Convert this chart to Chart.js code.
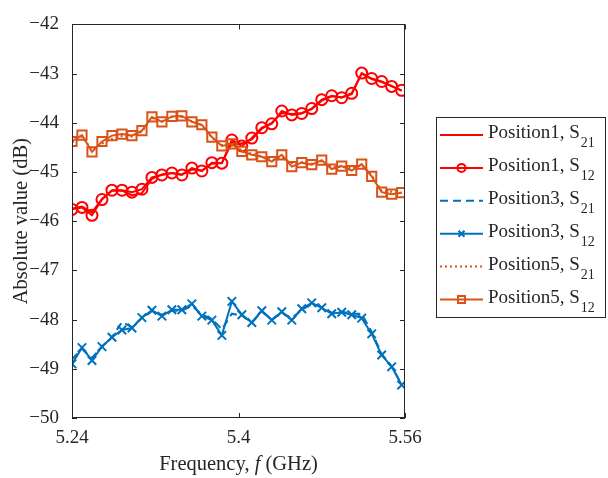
<!DOCTYPE html>
<html><head><meta charset="utf-8">
<script src="https://cdn.jsdelivr.net/npm/chart.js@4/dist/chart.umd.min.js"></script>
<style>html,body{margin:0;padding:0;background:#fff;}#wrap{width:608px;height:478px;position:relative;}</style>
</head><body><div id="wrap"><canvas id="c" width="608" height="478"></canvas></div>
<script>
const freqGHz = [5.2400,5.2496,5.2592,5.2688,5.2784,5.2880,5.2976,5.3072,5.3168,5.3264,5.3360,5.3456,5.3552,5.3648,5.3744,5.3840,5.3936,5.4032,5.4128,5.4224,5.4320,5.4416,5.4512,5.4608,5.4704,5.4800,5.4896,5.4992,5.5088,5.5184,5.5280,5.5376,5.5472,5.5568];
const pos1S21 = [-45.74,-45.70,-45.82,-45.55,-45.38,-45.38,-45.47,-45.43,-45.14,-45.05,-45.02,-45.05,-44.95,-44.97,-44.83,-44.82,-44.40,-44.42,-44.34,-44.12,-44.00,-43.80,-43.82,-43.80,-43.72,-43.55,-43.46,-43.48,-43.42,-43.00,-43.11,-43.17,-43.25,-43.35];
const pos1S12 = [-45.76,-45.72,-45.88,-45.56,-45.37,-45.37,-45.41,-45.35,-45.11,-45.06,-45.02,-45.06,-44.92,-44.98,-44.81,-44.82,-44.35,-44.47,-44.31,-44.10,-44.02,-43.76,-43.84,-43.81,-43.71,-43.53,-43.45,-43.49,-43.40,-42.99,-43.10,-43.16,-43.26,-43.34];
const pos3S21 = [-48.80,-48.60,-48.78,-48.55,-48.36,-48.05,-48.15,-47.97,-47.83,-47.90,-47.82,-47.82,-47.72,-47.90,-47.98,-48.20,-47.88,-47.92,-48.05,-47.84,-48.00,-47.86,-47.97,-47.80,-47.68,-47.74,-47.86,-47.84,-47.88,-47.88,-48.25,-48.70,-48.95,-49.32];
const pos3S12 = [-48.90,-48.57,-48.83,-48.55,-48.36,-48.21,-48.17,-47.96,-47.81,-47.93,-47.80,-47.80,-47.68,-47.93,-48.01,-48.32,-47.63,-47.90,-48.06,-47.82,-48.01,-47.84,-48.01,-47.78,-47.66,-47.76,-47.88,-47.85,-47.90,-47.97,-48.29,-48.72,-48.96,-49.33];
const pos5S21 = [-44.40,-44.28,-44.55,-44.42,-44.33,-44.27,-44.28,-44.18,-43.90,-43.97,-43.88,-43.88,-43.97,-44.05,-44.30,-44.45,-44.45,-44.56,-44.63,-44.68,-44.76,-44.70,-44.82,-44.80,-44.83,-44.78,-44.90,-44.88,-44.93,-44.86,-45.07,-45.38,-45.40,-45.42];
const pos5S12 = [-44.38,-44.25,-44.59,-44.38,-44.26,-44.23,-44.26,-44.16,-43.88,-43.98,-43.87,-43.86,-43.98,-44.04,-44.29,-44.47,-44.43,-44.58,-44.65,-44.69,-44.79,-44.65,-44.89,-44.81,-44.85,-44.76,-44.94,-44.88,-44.97,-44.84,-45.09,-45.41,-45.45,-45.42];
const xTickValues = [5.24, 5.4, 5.56];
const xTickLabels = ['5.24', '5.4', '5.56'];
const yTickValues = [-50, -49, -48, -47, -46, -45, -44, -43, -42];
const yTickLabels = ['\u221250', '\u221249', '\u221248', '\u221247', '\u221246', '\u221245', '\u221244', '\u221243', '\u221242'];
const legendMain = ['Position1, S', 'Position1, S', 'Position3, S', 'Position3, S', 'Position5, S', 'Position5, S'];
const legendSub = ['21', '12', '21', '12', '21', '12'];
const xTitleParts = ['Frequency, ', 'f', ' (GHz)'];
const yTitle = 'Absolute value (dB)';

const FONT = '"Liberation Serif", "Times New Roman", serif';
const AX = '#262626';
const RED = '#FF0000', BLUE = '#0072BD', ORANGE = '#D95319';
const TICK_SIZE = 19, TITLE_SIZE = 20.5;

const toXY = arr => arr.map((v, i) => ({x: freqGHz[i], y: v}));

const series = [
  {data: pos1S21, color: RED, dash: [], style: false, r: 0},
  {data: pos1S12, color: RED, dash: [], style: 'circle', r: 5.5},
  {data: pos3S21, color: BLUE, dash: [8, 5], style: false, r: 0},
  {data: pos3S12, color: BLUE, dash: [], style: 'crossRot', r: 6},
  {data: pos5S21, color: ORANGE, dash: [2, 3], style: false, r: 0},
  {data: pos5S12, color: ORANGE, dash: [], style: 'rect', r: 6.5}
];

const datasets = series.map((s, i) => ({
  label: legendMain[i] + legendSub[i],
  data: toXY(s.data),
  borderColor: s.color,
  borderWidth: 2,
  borderDash: s.dash,
  pointStyle: s.style || 'circle',
  pointRadius: s.r,
  pointBorderWidth: 2,
  pointBorderColor: s.color,
  pointBackgroundColor: 'rgba(0,0,0,0)',
  tension: 0,
  fill: false,
  order: 5 - i
}));

const matlabPlugin = {
  id: 'matlab',
  afterDraw(chart) {
    const ctx = chart.ctx, ca = chart.chartArea;
    const xs = chart.scales.x, ys = chart.scales.y;
    ctx.save();
    ctx.strokeStyle = AX; ctx.lineWidth = 1; ctx.setLineDash([]);
    ctx.strokeRect(Math.round(ca.left) + 0.5, Math.round(ca.top) + 0.5, Math.round(ca.right - ca.left) - 1, Math.round(ca.bottom - ca.top) - 1);
    const TL = 5;
    ctx.beginPath();
    xTickValues.forEach(v => {
      const px = Math.round(xs.getPixelForValue(v)) + 0.5;
      ctx.moveTo(px, ca.bottom); ctx.lineTo(px, ca.bottom - TL);
      ctx.moveTo(px, ca.top); ctx.lineTo(px, ca.top + TL);
    });
    yTickValues.forEach(v => {
      const py = Math.round(ys.getPixelForValue(v)) + 0.5;
      ctx.moveTo(ca.left, py); ctx.lineTo(ca.left + TL, py);
      ctx.moveTo(ca.right, py); ctx.lineTo(ca.right - TL, py);
    });
    ctx.stroke();
    ctx.fillStyle = AX;
    ctx.textBaseline = 'middle';
    ctx.textAlign = 'left';
    const fonts = [TITLE_SIZE + 'px ' + FONT, 'italic ' + TITLE_SIZE + 'px ' + FONT, TITLE_SIZE + 'px ' + FONT];
    let total = 0;
    const widths = xTitleParts.map((t, i) => { ctx.font = fonts[i]; const w = ctx.measureText(t).width; total += w; return w; });
    let x = (ca.left + ca.right) / 2 - total / 2;
    xTitleParts.forEach((t, i) => { ctx.font = fonts[i]; ctx.fillText(t, x, 465); x += widths[i]; });
    const bx = 436, by = 117, bw = 169, bh = 200;
    ctx.fillStyle = '#fff';
    ctx.fillRect(bx, by, bw, bh);
    ctx.strokeStyle = AX; ctx.lineWidth = 1;
    ctx.strokeRect(bx + 0.5, by + 0.5, bw, bh);
    series.forEach((s, i) => {
      const ly = 135 + 32.9 * i;
      ctx.strokeStyle = s.color; ctx.lineWidth = 2; ctx.setLineDash(s.dash);
      ctx.beginPath(); ctx.moveTo(440, ly); ctx.lineTo(483, ly); ctx.stroke();
      ctx.setLineDash([]);
      const mx = 461.5;
      if (s.style === 'circle') {
        ctx.beginPath(); ctx.arc(mx, ly, 4, 0, Math.PI * 2); ctx.stroke();
      } else if (s.style === 'crossRot') {
        ctx.beginPath(); ctx.moveTo(mx - 3, ly - 3); ctx.lineTo(mx + 3, ly + 3); ctx.moveTo(mx + 3, ly - 3); ctx.lineTo(mx - 3, ly + 3); ctx.stroke();
      } else if (s.style === 'rect') {
        ctx.strokeRect(mx - 3.5, ly - 3.5, 7, 7);
      }
      ctx.fillStyle = AX;
      ctx.textAlign = 'left'; ctx.textBaseline = 'middle';
      ctx.font = '19px ' + FONT;
      ctx.fillText(legendMain[i], 488, ly - 1.5);
      const w = ctx.measureText(legendMain[i]).width;
      ctx.font = '14px ' + FONT;
      ctx.fillText(legendSub[i], 488 + w + 1, ly + 8.5);
    });
    ctx.restore();
  }
};

new Chart(document.getElementById('c'), {
  type: 'line',
  data: {datasets},
  options: {
    responsive: false,
    animation: false,
    devicePixelRatio: 1,
    layout: {padding: {left: 0, right: 203, top: 14, bottom: 0}},
    plugins: {legend: {display: false}, tooltip: {enabled: false}},
    scales: {
      x: {
        type: 'linear', min: 5.24, max: 5.56,
        afterBuildTicks: sc => { sc.ticks = xTickValues.map(v => ({value: v})); },
        afterFit: sc => { sc.height = 60; },
        grid: {display: false, drawTicks: false},
        border: {display: false},
        ticks: {
          autoSkip: false, maxRotation: 0, padding: 9, color: AX,
          font: {family: FONT, size: TICK_SIZE},
          callback: v => { const k = xTickValues.findIndex(t => Math.abs(t - v) < 1e-9); return k >= 0 ? xTickLabels[k] : ''; }
        }
      },
      y: {
        type: 'linear', min: -50, max: -42,
        afterBuildTicks: sc => { sc.ticks = yTickValues.map(v => ({value: v})); },
        afterFit: sc => { sc.width = 72; },
        grid: {display: false, drawTicks: false},
        border: {display: false},
        ticks: {
          autoSkip: false, padding: 13, color: AX,
          font: {family: FONT, size: TICK_SIZE},
          callback: v => { const k = yTickValues.indexOf(v); return k >= 0 ? yTickLabels[k] : ''; }
        },
        title: {display: true, text: yTitle, color: AX, font: {family: FONT, size: TITLE_SIZE}, padding: {top: 9, bottom: 0}}
      }
    }
  },
  plugins: [matlabPlugin]
});
</script></body></html>
